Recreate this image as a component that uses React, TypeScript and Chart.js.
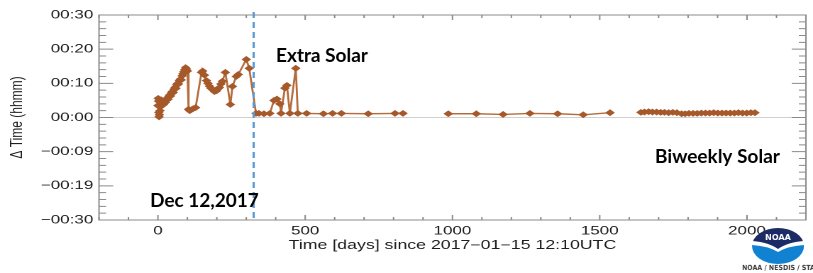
import React, { useEffect, useRef } from 'react';
import { Chart, registerables } from 'chart.js';

Chart.register(...registerables);

// ---------- data ----------
const earlyDays = [0, 1, 2, 3, 4, 5, 7, 9, 11, 13, 16, 19, 22, 25, 28, 31, 34, 37, 40, 43, 46, 49, 52, 55, 58, 61, 64, 67, 70, 73, 76, 79, 82, 85, 88, 91, 94, 97, 100, 104, 108, 114, 120, 128, 148, 152, 158, 165, 170, 175, 180, 185, 192, 199, 204, 209, 214, 219, 229, 246, 253, 266, 273, 300, 310, 333, 343, 360, 380, 394, 404, 414, 418, 431, 438, 448, 468, 475, 505, 562, 593, 623, 714, 805, 832];
const earlyMinutes = [3.5, 5.6, 4.8, 1.5, 0.2, 0.8, 2.0, 3.2, 5.2, 4.0, 4.3, 3.8, 4.6, 4.4, 5.0, 5.6, 5.3, 6.2, 6.6, 6.3, 7.2, 7.6, 7.3, 8.3, 8.8, 8.5, 9.6, 10.0, 9.8, 10.8, 11.2, 11.0, 12.2, 12.8, 13.4, 14.0, 14.6, 14.2, 13.6, 2.4, 2.0, 2.3, 2.6, 2.9, 13.2, 13.6, 12.4, 10.8, 10.0, 9.2, 8.6, 8.2, 7.6, 7.8, 8.4, 8.8, 9.8, 10.6, 13.2, 3.8, 9.1, 12.0, 12.6, 17.0, 14.4, 1.2, 1.2, 1.1, 1.2, 5.0, 5.4, 4.0, 1.2, 8.6, 9.4, 1.2, 14.4, 1.2, 1.2, 1.1, 1.2, 1.2, 1.1, 1.2, 1.2];

const midDays = [986, 1081, 1172, 1263, 1357, 1444, 1535];
const midMinutes = [1.1, 1.1, 0.9, 1.2, 1.1, 0.8, 1.4];

const lateDays = [1640, 1652, 1666, 1679, 1693, 1707, 1720, 1734, 1748, 1762, 1778, 1790, 1803, 1817, 1831, 1845, 1859, 1873, 1887, 1901, 1915, 1929, 1943, 1957, 1971, 1985, 1999, 2013, 2027];
const lateMinutes = [1.5, 1.6, 1.7, 1.6, 1.6, 1.5, 1.5, 1.4, 1.5, 1.4, 1.1, 1.1, 1.2, 1.2, 1.2, 1.3, 1.3, 1.3, 1.4, 1.3, 1.3, 1.3, 1.3, 1.3, 1.4, 1.3, 1.3, 1.4, 1.4];

const gapDays = [900, 1590];

const yTickValues = [-30, -20, -10, 0, 10, 20, 30];
const yTickLabels = ['\u221200:30', '\u221200:19', '\u221200:09', '00:00', '00:10', '00:20', '00:30'];
const xTickValues = [0, 500, 1000, 1500, 2000];

const eventDay = 325;
const xTitle = 'Time [days] since 2017\u221201\u221215 12:10UTC';
const yTitle = '\u0394 Time (hhmm)';

// ---------- layout ----------
const PAGE_W = 813;
const PAGE_H = 273;
const LW = 573; // logical canvas width (stretched horizontally like the source)
const SX = PAGE_W / LW;

const AXIS_COLOR = '#8a8a8a';
const TEXT_COLOR = '#1e1e1e';
const LABEL_FONT = "'Liberation Sans', Arial, Helvetica, sans-serif";

function buildPoints() {
  const pts: { x: number; y: number | null }[] = [];
  earlyDays.forEach((d, i) => pts.push({ x: d, y: earlyMinutes[i] }));
  pts.push({ x: gapDays[0], y: null });
  midDays.forEach((d, i) => pts.push({ x: d, y: midMinutes[i] }));
  pts.push({ x: gapDays[1], y: null });
  lateDays.forEach((d, i) => pts.push({ x: d, y: lateMinutes[i] }));
  return pts;
}

const framePlugin = {
  id: 'idlFrame',
  beforeDatasetsDraw(chart: any) {
    const { ctx, chartArea: a, scales } = chart;
    const xs = scales.x;
    const ys = scales.y;
    ctx.save();
    const y0 = ys.getPixelForValue(0);
    ctx.strokeStyle = '#d0d0d0';
    ctx.lineWidth = 1;
    ctx.beginPath();
    ctx.moveTo(a.left, y0);
    ctx.lineTo(a.right, y0);
    ctx.stroke();
    ctx.strokeStyle = AXIS_COLOR;
    ctx.lineWidth = 1;
    ctx.strokeRect(a.left, a.top, a.right - a.left, a.bottom - a.top);
    ctx.beginPath();
    for (let v = xs.min; v <= xs.max + 0.001; v += 100) {
      const px = xs.getPixelForValue(v);
      const len = v % 500 === 0 ? 5 : 3;
      ctx.moveTo(px, a.bottom);
      ctx.lineTo(px, a.bottom - len);
      ctx.moveTo(px, a.top);
      ctx.lineTo(px, a.top + len);
    }
    for (let v = ys.min; v <= ys.max + 0.001; v += 2) {
      const py = ys.getPixelForValue(v);
      const len = v % 10 === 0 ? 10 : 5;
      ctx.moveTo(a.left, py);
      ctx.lineTo(a.left + len, py);
      ctx.moveTo(a.right, py);
      ctx.lineTo(a.right - len, py);
    }
    ctx.stroke();
    ctx.restore();
  },
  afterDatasetsDraw(chart: any) {
    const { ctx, chartArea: a, scales } = chart;
    const px = scales.x.getPixelForValue(eventDay);
    ctx.save();
    ctx.strokeStyle = '#5b9bd5';
    ctx.lineWidth = 1.6;
    ctx.setLineDash([6, 4]);
    ctx.beginPath();
    ctx.moveTo(px, a.top - 3);
    ctx.lineTo(px, a.bottom);
    ctx.stroke();
    ctx.restore();
  },
  afterDraw(chart: any) {
    const { ctx } = chart;
    ctx.save();
    ctx.scale(1 / SX, 1);
    ctx.fillStyle = '#000';
    ctx.font = "bold 19px Lato, 'Open Sans', sans-serif";
    ctx.textAlign = 'left';
    ctx.textBaseline = 'alphabetic';
    ctx.fillText('Extra Solar', 276, 62);
    ctx.fillText('Dec 12,2017', 150, 207);
    ctx.fillText('Biweekly Solar', 655, 163);
    drawLogo(ctx);
    ctx.restore();
  },
};

function drawLogo(ctx: CanvasRenderingContext2D) {
  const cx = 778, cy = 246, rx = 26, ry = 18;
  ctx.save();
  ctx.beginPath();
  ctx.ellipse(cx, cy, rx, ry, 0, 0, Math.PI * 2);
  ctx.fillStyle = '#ffffff';
  ctx.fill();
  ctx.clip();
  ctx.beginPath();
  ctx.moveTo(cx - rx, cy - ry);
  ctx.lineTo(cx + rx, cy - ry);
  ctx.lineTo(cx + rx, cy - 5);
  ctx.quadraticCurveTo(cx + 10, cy - 4, cx, cy + 3);
  ctx.quadraticCurveTo(cx - 10, cy - 4, cx - rx, cy - 5);
  ctx.closePath();
  ctx.fillStyle = '#1c2a66';
  ctx.fill();
  ctx.beginPath();
  ctx.moveTo(cx - rx, cy - 1);
  ctx.quadraticCurveTo(cx - 10, cy, cx, cy + 6);
  ctx.quadraticCurveTo(cx + 10, cy, cx + rx, cy - 1);
  ctx.lineTo(cx + rx, cy + ry);
  ctx.lineTo(cx - rx, cy + ry);
  ctx.closePath();
  ctx.fillStyle = '#1182d2';
  ctx.fill();
  ctx.restore();
  ctx.fillStyle = '#ffffff';
  ctx.font = "bold 8px 'DejaVu Sans', sans-serif";
  ctx.textAlign = 'center';
  ctx.textBaseline = 'middle';
  ctx.fillText('NOAA', cx, cy - 8);
  ctx.fillStyle = '#3a3a3a';
  ctx.font = "bold 7px 'DejaVu Sans Condensed', 'DejaVu Sans', sans-serif";
  ctx.textAlign = 'left';
  ctx.textBaseline = 'middle';
  ctx.fillText('NOAA / NESDIS / STAR', 742, 268);
}

export default function App() {
  const canvasRef = useRef<HTMLCanvasElement | null>(null);

  useEffect(() => {
    const canvas = canvasRef.current;
    if (!canvas) return;
    const chart = new Chart(canvas, {
      type: 'line',
      data: {
        datasets: [
          {
            data: buildPoints() as any,
            borderColor: '#b46c3c',
            borderWidth: 1.4,
            backgroundColor: '#a6592a',
            pointBackgroundColor: '#a6592a',
            pointBorderColor: '#a6592a',
            pointBorderWidth: 1,
            pointStyle: 'rectRot',
            pointRadius: 2.7,
            spanGaps: false,
            fill: false,
            tension: 0,
          },
        ],
      },
      options: {
        responsive: false,
        animation: false,
        devicePixelRatio: 2,
        layout: { padding: { left: 0, right: LW - 810 / SX, top: 15, bottom: 0 } },
        plugins: {
          legend: { display: false },
          tooltip: { enabled: false },
        },
        scales: {
          x: {
            type: 'linear',
            min: -200,
            max: 2200,
            grid: { display: false, drawTicks: false },
            border: { display: false },
            afterBuildTicks: (scale: any) => {
              scale.ticks = xTickValues.map((v) => ({ value: v }));
            },
            afterFit: (scale: any) => {
              scale.height = PAGE_H - 220;
            },
            ticks: {
              color: TEXT_COLOR,
              font: { family: LABEL_FONT, size: 12 },
              padding: 4,
              maxRotation: 0,
              autoSkip: false,
              callback: (v: any) => String(v),
            },
            title: {
              display: true,
              text: xTitle,
              color: TEXT_COLOR,
              font: { family: LABEL_FONT, size: 12.5 },
              padding: { top: 0, bottom: 20 },
            },
          },
          y: {
            type: 'linear',
            min: -30,
            max: 30,
            grid: { display: false, drawTicks: false },
            border: { display: false },
            afterBuildTicks: (scale: any) => {
              scale.ticks = yTickValues.map((v) => ({ value: v }));
            },
            afterFit: (scale: any) => {
              scale.width = 99 / SX;
            },
            ticks: {
              color: TEXT_COLOR,
              font: { family: LABEL_FONT, size: 12 },
              padding: 4,
              autoSkip: false,
              callback: (_v: any, i: number) => yTickLabels[i],
            },
            title: {
              display: true,
              text: yTitle,
              color: TEXT_COLOR,
              font: { family: LABEL_FONT, size: 12 },
              padding: { top: 5, bottom: 0 },
            },
          },
        },
      },
      plugins: [framePlugin],
    });
    return () => chart.destroy();
  }, []);

  return (
    <div style={{ position: 'fixed', left: 0, top: 0, width: PAGE_W, height: PAGE_H, background: '#fff' }}>
      <canvas
        ref={canvasRef}
        width={LW}
        height={PAGE_H}
        style={{ width: PAGE_W + 'px', height: PAGE_H + 'px', display: 'block' }}
      />
    </div>
  );
}
